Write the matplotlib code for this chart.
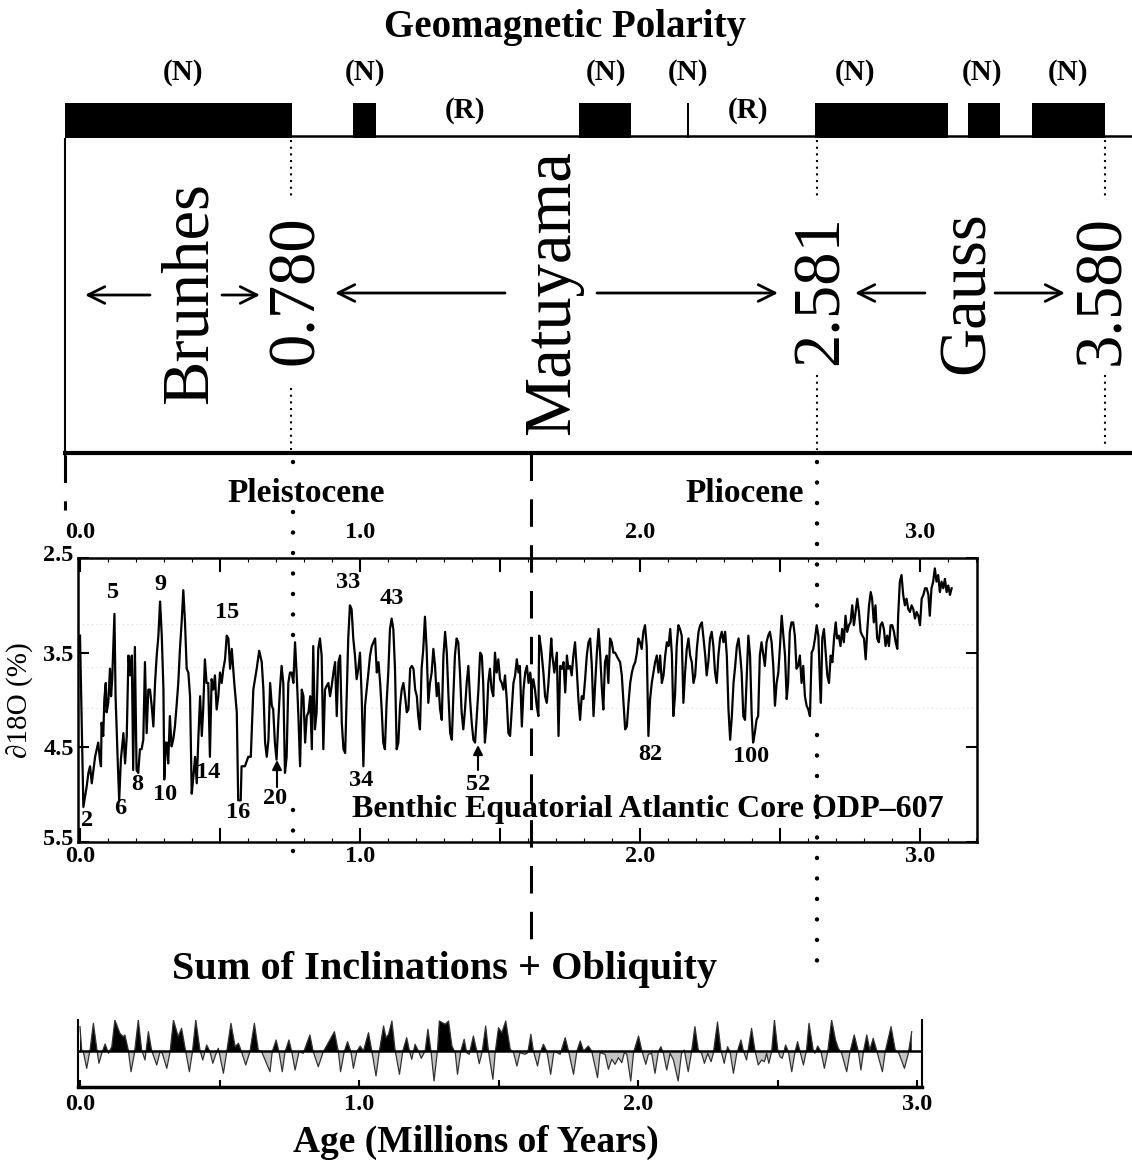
import matplotlib
matplotlib.use('Agg')
import matplotlib.pyplot as plt
import matplotlib.transforms as mtransforms
from matplotlib.ticker import MultipleLocator, FixedLocator

plt.rcParams['font.family'] = ['Liberation Serif', 'DejaVu Serif']

# ---------------- data ----------------
# geomagnetic normal-polarity intervals (Ma)
normal_start = [0.00, 0.99, 1.77, 2.14, 2.581, 3.11, 3.33]
normal_end = [0.78, 1.07, 1.95, 2.147, 3.04, 3.22, 3.58]
normal_labels = ['(N)'] * 7
reverse_labels = ['(R)', '(R)']
chron_names = ['Brunhes', 'Matuyama', 'Gauss']
chron_bounds = ['0.780', '2.581', '3.580']
epoch_names = ['Pleistocene', 'Pliocene']

# benthic d18O, ODP-607 (age Ma, value)
d18o_seg1 = [(0.000,3.32),(0.012,5.13),(0.024,4.91),(0.030,4.77),(0.036,4.70),(0.042,4.88),(0.048,4.74),(0.054,4.60),(0.060,4.52),(0.065,4.45),(0.071,4.63),(0.075,4.70),(0.077,4.24),(0.083,4.38),(0.087,3.99),(0.092,3.82),(0.095,4.13),(0.101,4.03),(0.107,3.67),(0.111,3.96),(0.115,3.78),(0.123,3.09),(0.127,3.96),(0.135,4.67),(0.140,5.06),(0.146,4.63),(0.155,4.35),(0.161,4.67),(0.167,4.38),(0.173,3.53),(0.179,3.74),(0.185,3.53),(0.190,4.74),(0.196,3.44),(0.202,4.74),(0.208,4.77),(0.214,4.52),(0.220,4.52),(0.226,4.42),(0.232,3.60),(0.238,4.35),(0.244,3.89),(0.250,3.89),(0.256,4.06),(0.262,4.28),(0.268,3.82),(0.274,3.53),(0.280,3.32),(0.286,2.96),(0.292,3.32),(0.298,3.89),(0.301,4.84),(0.306,4.45),(0.310,4.45),(0.315,4.67),(0.321,4.17),(0.327,4.49),(0.333,4.42),(0.339,4.28),(0.345,4.06),(0.351,3.82),(0.357,3.46),(0.363,3.18),(0.369,2.84),(0.375,3.18),(0.381,3.67),(0.387,3.71),(0.393,3.96),(0.399,4.99),(0.405,4.81),(0.411,4.60),(0.417,4.88),(0.423,4.38),(0.429,3.96),(0.435,4.38),(0.440,4.10),(0.446,3.57),(0.452,3.82),(0.458,3.82),(0.464,4.60),(0.470,3.78),(0.476,3.89),(0.482,3.74),(0.488,4.10),(0.494,3.96),(0.500,3.71),(0.506,3.82),(0.512,3.67),(0.518,3.57),(0.524,3.32),(0.530,3.35),(0.536,3.67),(0.542,3.46),(0.551,3.82),(0.560,4.13),(0.565,5.06),(0.574,5.06),(0.577,4.70),(0.589,4.70),(0.601,4.60),(0.610,4.60),(0.619,3.89),(0.631,3.67),(0.640,3.48),(0.649,3.60),(0.655,3.89),(0.661,4.45),(0.667,4.60),(0.673,4.42),(0.679,3.82),(0.685,4.06),(0.690,4.10),(0.696,4.45),(0.702,4.63),(0.708,4.24),(0.714,3.89),(0.720,3.64),(0.726,3.82),(0.732,4.77),(0.738,4.60),(0.744,3.82),(0.750,3.71),(0.756,3.71),(0.762,3.82),(0.768,3.39),(0.774,3.74),(0.780,4.17),(0.786,4.70)]
d18o_seg2 = [(0.792,3.89),(0.798,3.96),(0.804,4.45),(0.810,4.17),(0.816,4.13),(0.822,3.96),(0.828,4.52),(0.833,3.43),(0.839,4.31),(0.845,4.13),(0.851,3.46),(0.857,3.35),(0.863,3.53),(0.869,4.52),(0.875,3.89),(0.881,3.85),(0.887,3.82),(0.893,3.96),(0.899,3.85),(0.905,3.71),(0.911,3.60),(0.917,4.17),(0.923,3.60),(0.929,3.53),(0.935,4.24),(0.941,4.52),(0.947,4.56),(0.953,3.89),(0.958,3.35),(0.964,3.00),(0.970,3.04),(0.976,3.35),(0.982,3.53),(0.988,3.78),(0.994,3.67),(1.000,3.50),(1.006,3.96),(1.012,4.70),(1.018,4.06),(1.024,3.89),(1.030,3.71),(1.036,3.53),(1.042,3.43),(1.048,3.39),(1.054,3.35),(1.060,3.71),(1.066,3.60),(1.072,3.82),(1.078,4.13),(1.083,4.45),(1.089,4.52),(1.095,4.03),(1.101,3.71),(1.107,3.25),(1.113,3.14),(1.119,3.25),(1.125,3.67),(1.131,4.52),(1.137,4.45),(1.143,4.06),(1.149,3.89),(1.155,3.82),(1.161,3.96),(1.167,4.13),(1.173,4.10),(1.179,3.67),(1.185,3.64),(1.191,3.67),(1.197,3.89),(1.203,3.96),(1.208,4.17),(1.214,4.31),(1.220,3.67),(1.226,3.46),(1.232,3.12),(1.238,3.46),(1.244,4.03),(1.250,3.82),(1.256,3.71),(1.262,3.46),(1.268,3.64),(1.274,3.96),(1.280,3.82),(1.286,4.10),(1.292,4.21),(1.298,3.53),(1.304,3.28),(1.310,3.50),(1.316,3.96),(1.322,4.35),(1.328,4.42),(1.333,3.99),(1.339,3.53),(1.345,3.35),(1.351,3.39),(1.357,3.71),(1.363,4.13),(1.369,4.31),(1.375,4.10),(1.381,3.82),(1.387,3.64),(1.393,3.99),(1.399,4.24),(1.405,4.42),(1.411,4.45),(1.417,4.17),(1.423,3.89),(1.429,3.50),(1.435,3.53),(1.440,3.82),(1.446,4.45),(1.452,4.24),(1.458,3.82),(1.464,3.67),(1.470,3.89),(1.476,3.96),(1.482,3.50),(1.488,3.71),(1.494,3.57),(1.500,3.78),(1.506,3.82),(1.512,3.89),(1.518,3.74),(1.524,3.99),(1.530,4.35),(1.536,4.38),(1.542,4.10),(1.548,3.82),(1.554,3.74),(1.560,3.57),(1.566,3.71),(1.571,3.64)]
d18o_seg3 = [(1.578,4.28),(1.584,3.89),(1.590,3.71),(1.596,3.64),(1.602,3.82),(1.608,3.71),(1.614,3.89),(1.619,3.78),(1.625,3.89),(1.631,4.06),(1.637,4.17),(1.640,3.32),(1.647,3.46),(1.655,3.71),(1.661,3.96),(1.667,4.03),(1.673,3.82),(1.683,3.35),(1.687,3.53),(1.694,3.71),(1.703,3.50),(1.709,4.38),(1.715,3.64),(1.721,3.67),(1.727,3.60),(1.733,3.92),(1.739,3.53),(1.744,3.67),(1.750,3.64),(1.756,3.74),(1.762,3.53),(1.768,3.39),(1.774,3.67),(1.780,3.99),(1.786,4.21),(1.792,3.96),(1.798,3.99),(1.804,3.78),(1.810,3.53),(1.816,3.39),(1.822,3.35),(1.828,3.64),(1.834,4.17),(1.840,3.82),(1.846,3.50),(1.852,3.25),(1.858,3.53),(1.864,3.89),(1.869,4.10),(1.875,3.60),(1.881,3.53),(1.887,3.82),(1.893,3.35),(1.899,3.39),(1.905,3.50),(1.911,3.50),(1.923,3.57),(1.929,3.60),(1.935,3.74),(1.941,4.03),(1.947,4.31),(1.953,4.28),(1.959,4.03),(1.965,3.82),(1.971,3.71),(1.977,3.64),(1.983,3.60),(1.989,3.50),(1.994,3.35),(2.000,3.39),(2.006,3.46),(2.012,3.28),(2.018,3.21),(2.024,3.43),(2.030,4.38),(2.036,3.99),(2.042,3.82),(2.048,3.71),(2.054,3.60),(2.060,3.53),(2.066,3.71),(2.072,3.53),(2.078,3.82),(2.084,3.74),(2.090,3.53),(2.096,3.39),(2.102,3.43),(2.108,3.25),(2.114,3.53),(2.119,4.17),(2.125,3.96),(2.131,3.43),(2.137,3.21),(2.143,3.25),(2.149,3.32),(2.155,4.03),(2.161,3.71),(2.167,3.46),(2.173,3.35),(2.179,3.53),(2.185,3.60),(2.191,3.82),(2.197,3.74),(2.203,3.46),(2.209,3.28),(2.215,3.21),(2.221,3.18),(2.227,3.35),(2.233,3.53),(2.238,3.74),(2.244,3.60),(2.250,3.35),(2.256,3.28),(2.262,3.43),(2.268,3.71),(2.274,3.82),(2.280,3.53),(2.286,3.35),(2.292,3.28),(2.298,3.39),(2.304,3.28),(2.310,3.53),(2.316,4.10),(2.322,4.42),(2.328,4.17),(2.334,3.82),(2.340,3.64),(2.346,3.43),(2.352,3.35),(2.358,3.53)]
d18o_seg4 = [(2.363,3.71),(2.369,4.17),(2.375,4.21),(2.387,3.32),(2.393,3.53),(2.399,4.17),(2.404,4.45),(2.410,4.35),(2.416,4.21),(2.422,4.17),(2.428,3.53),(2.434,3.39),(2.446,3.64),(2.452,3.39),(2.458,3.32),(2.464,3.28),(2.470,3.39),(2.476,3.64),(2.482,4.06),(2.488,3.82),(2.494,3.71),(2.500,3.43),(2.506,3.11),(2.512,3.32),(2.518,3.53),(2.524,3.99),(2.529,3.82),(2.535,3.28),(2.541,3.18),(2.547,3.18),(2.553,3.32),(2.559,3.67),(2.565,3.64),(2.571,3.53),(2.577,3.82),(2.583,3.64),(2.589,3.96),(2.595,4.06),(2.601,4.10),(2.607,4.17),(2.613,3.50),(2.619,3.46),(2.625,3.35),(2.631,3.21),(2.637,3.32),(2.643,3.85),(2.646,4.03),(2.651,3.35),(2.657,3.25),(2.663,3.50),(2.669,3.74),(2.675,3.82),(2.681,3.53),(2.687,3.60),(2.693,3.35),(2.699,3.18),(2.704,3.35),(2.710,3.32),(2.716,3.43),(2.722,3.25),(2.728,3.39),(2.734,3.11),(2.740,3.28),(2.746,3.21),(2.752,3.18),(2.758,3.00),(2.764,3.21),(2.770,3.07),(2.776,2.93),(2.782,3.07),(2.788,3.28),(2.794,3.32),(2.800,3.35),(2.806,3.57),(2.812,3.25),(2.818,3.00),(2.824,2.86),(2.829,2.93),(2.835,3.18),(2.841,3.00),(2.847,3.35),(2.853,3.39),(2.859,3.21),(2.865,3.18),(2.871,3.25),(2.877,3.43),(2.883,3.32),(2.889,3.43),(2.895,3.21),(2.901,3.21),(2.907,3.28),(2.913,3.39),(2.919,3.46),(2.922,3.11),(2.928,2.75),(2.934,2.68),(2.940,2.89),(2.946,3.00),(2.952,2.93),(2.958,3.04),(2.964,3.07),(2.970,3.00),(2.976,3.04),(2.982,3.14),(2.988,3.07),(2.994,3.11),(3.000,3.21),(3.006,2.93),(3.012,2.89),(3.018,2.82),(3.024,2.82),(3.030,2.89),(3.035,3.11),(3.041,2.82),(3.047,2.75),(3.053,2.61),(3.059,2.75),(3.065,2.68),(3.071,2.86),(3.077,2.75),(3.083,2.82),(3.089,2.72),(3.095,2.86),(3.101,2.79),(3.107,2.89),(3.113,2.82)]

# marine isotope stage numbers annotated on the curve
stage_labels = ['2', '5', '6', '8', '9', '10', '14', '15', '16', '20', '33', '34', '43', '52', '82', '100']

# sum of inclinations + obliquity (age Ma, relative amplitude)
incl_seg1 = [(0.000,2.43),(0.006,0.10),(0.012,-0.07),(0.024,-1.73),(0.036,0.10),(0.048,2.77),(0.060,0.27),(0.068,-1.23),(0.078,-0.23),(0.090,0.70),(0.102,-0.23),(0.114,0.43),(0.125,3.10),(0.143,1.77),(0.155,1.43),(0.161,1.60),(0.173,0.10),(0.183,-2.07),(0.195,-0.23),(0.209,3.10),(0.221,0.10),(0.233,-0.90),(0.245,1.93),(0.257,0.03),(0.275,-1.40),(0.287,-0.07),(0.295,-0.23),(0.311,-1.73),(0.323,-0.07),(0.335,3.10),(0.352,1.43),(0.364,2.27),(0.376,0.43),(0.392,-2.07),(0.403,-0.07),(0.415,3.10),(0.430,0.10),(0.440,-0.90),(0.454,0.60),(0.466,-0.07),(0.476,-1.23),(0.490,-0.07),(0.496,0.27),(0.514,-2.23),(0.526,-0.07),(0.541,2.77),(0.556,0.43),(0.568,0.77),(0.579,-0.07),(0.594,-1.40),(0.609,-0.07),(0.625,2.77),(0.639,0.10),(0.651,-0.07),(0.681,-2.07),(0.689,-0.07),(0.703,1.10),(0.713,-0.07),(0.725,-2.07),(0.735,-0.07),(0.749,1.10),(0.759,-0.07),(0.771,-1.90),(0.785,-0.07),(0.800,-0.23),(0.824,1.60),(0.836,-0.07),(0.854,-1.57),(0.872,-0.07),(0.912,1.93),(0.926,-0.07),(0.934,-2.07),(0.947,-0.07),(0.959,0.93),(0.971,-0.07),(0.980,-1.73),(0.992,-0.07),(1.004,0.50)]
incl_seg2 = [(1.016,0.00),(1.034,1.83),(1.046,0.00),(1.061,-2.50),(1.073,0.00),(1.088,2.50),(1.097,1.33),(1.106,1.67),(1.118,3.00),(1.129,0.17),(1.145,-2.33),(1.157,0.00),(1.171,1.33),(1.181,0.00),(1.189,-0.83),(1.201,0.67),(1.213,0.00),(1.223,-0.73),(1.237,0.00),(1.247,2.17),(1.258,0.00),(1.269,-3.00),(1.281,0.00),(1.288,3.00),(1.309,2.67),(1.321,3.00),(1.333,0.50),(1.345,-0.17),(1.353,-2.33),(1.365,0.00),(1.377,1.17),(1.386,-0.17),(1.395,-0.33),(1.410,1.50),(1.422,0.00),(1.431,-1.27),(1.442,0.00),(1.454,2.50),(1.464,0.00),(1.480,-2.83),(1.488,-0.17),(1.500,2.33),(1.512,1.83),(1.526,3.00),(1.542,0.17),(1.554,-0.17),(1.566,-1.50),(1.577,-0.17),(1.595,-0.33),(1.605,-0.17),(1.616,1.67),(1.625,0.00),(1.640,-1.50),(1.649,-0.17),(1.661,0.67),(1.673,0.00),(1.687,-2.33),(1.699,0.00),(1.721,-0.33),(1.739,1.33),(1.751,0.00),(1.769,-2.33),(1.781,0.00),(1.793,1.00),(1.805,0.00),(1.822,0.50),(1.834,0.00),(1.855,-2.67),(1.864,-0.17),(1.882,-0.33),(1.894,-1.83),(1.906,-0.83),(1.918,-1.33),(1.930,-0.67),(1.942,-1.17),(1.951,-0.17),(1.960,-0.33),(1.974,-3.00),(1.984,-0.17),(2.002,1.50),(2.014,0.00),(2.028,-1.33),(2.037,-0.33)]
incl_seg3 = [(2.049,-0.23),(2.061,-2.23),(2.073,-0.07),(2.082,0.43),(2.091,-0.23),(2.103,-1.90),(2.115,-0.23),(2.127,-0.90),(2.144,-3.00),(2.156,-0.23),(2.166,0.10),(2.180,-2.07),(2.192,-0.07),(2.204,2.43),(2.216,0.10),(2.228,-0.23),(2.238,-1.23),(2.250,-0.23),(2.262,-1.07),(2.270,-0.23),(2.285,2.90),(2.297,0.10),(2.309,-1.23),(2.321,0.43),(2.330,-0.07),(2.342,-2.23),(2.354,-0.23),(2.369,1.10),(2.377,0.10),(2.389,-0.90),(2.407,2.27),(2.419,0.10),(2.431,-1.40),(2.443,-0.90),(2.453,-1.07),(2.461,-0.23),(2.469,-1.23),(2.479,-0.07),(2.489,3.10),(2.501,0.10),(2.509,-0.57),(2.517,-0.73),(2.529,0.60),(2.539,-0.07),(2.551,-2.07),(2.563,-0.07),(2.572,0.93),(2.581,-0.07),(2.593,-1.40),(2.604,0.10),(2.613,2.77),(2.628,0.10),(2.634,-0.23),(2.644,0.50),(2.656,-0.07),(2.668,-1.73),(2.680,-0.07),(2.694,3.10),(2.708,1.10),(2.718,0.27),(2.730,-0.23),(2.748,-2.07),(2.760,-0.07),(2.775,1.60),(2.790,-0.07),(2.799,-1.90),(2.808,-0.07),(2.820,1.60),(2.831,0.10),(2.843,1.27),(2.855,0.10),(2.876,-2.07),(2.886,-0.07),(2.907,2.43),(2.922,0.10),(2.935,-0.23),(2.955,-1.73),(2.969,-0.23),(2.981,1.93)]

d18o = d18o_seg1 + d18o_seg2 + d18o_seg3 + d18o_seg4
d18o_age = [p[0] for p in d18o]
d18o_val = [p[1] for p in d18o]
incl = incl_seg1 + incl_seg2 + incl_seg3
incl_age = [p[0] for p in incl]
incl_val = [p[1] for p in incl]

# ---------------- layout ----------------
W, H = 1132, 1168
fig = plt.figure(figsize=(W / 100, H / 100), dpi=100)


def box(x0, y0, x1, y1):
    return [x0 / W, 1 - y1 / H, (x1 - x0) / W, (y1 - y0) / H]


TICK_FS = 17.5

# polarity bar (age scale of the top panel)
axP = fig.add_axes(box(0, 103, W, 138))
axP.set_xlim(-65 / 290.5, (W - 65) / 290.5)
axP.set_ylim(0, 1)
axP.axis('off')
axP.bar(normal_start, [1] * len(normal_start),
        width=[e - s for s, e in zip(normal_start, normal_end)],
        align='edge', color='black', lw=0)
axP.plot([normal_end[0], (W - 65) / 290.5], [0.07, 0.07], color='black', lw=1.8)

# middle panel
axM = fig.add_axes(box(78, 558, 977, 842))
axM.set_xlim(-2 / 280, 897 / 280)
axM.set_ylim(5.5, 2.5)
for yv in [3.2, 3.65, 4.08]:
    axM.axhline(yv, color='#dcdcdc', lw=0.8, ls=(0, (1, 3)), zorder=0)
axM.plot(d18o_age, d18o_val, color='black', lw=1.6, zorder=3)
for s in axM.spines.values():
    s.set_linewidth(1.8)
axM.xaxis.set_major_locator(FixedLocator([0, 0.5, 1, 1.5, 2, 2.5, 3]))
axM.set_xticklabels(['0.0', '', '1.0', '', '2.0', '', '3.0'])
axM.xaxis.set_minor_locator(MultipleLocator(0.1))
axM.tick_params(axis='x', which='major', direction='in', length=10, width=1.5,
                top=True, bottom=True, labelsize=TICK_FS, pad=3)
axM.tick_params(axis='x', which='minor', direction='in', length=3, width=0.8,
                top=True, bottom=True)
axM.set_yticks([2.5, 3.5, 4.5, 5.5])
axM.set_yticklabels(['2.5', '3.5', '4.5', '5.5'])
axM.tick_params(axis='y', direction='in', length=8, width=1.5, left=True,
                right=True, labelsize=TICK_FS, pad=3)
for lab in axM.get_xticklabels() + axM.get_yticklabels():
    lab.set_fontweight('bold')
# lift the lowest y label a little so it clears the 0.0 below it
lift = mtransforms.ScaledTranslation(0, 5 / 100, fig.dpi_scale_trans)
ylabs = axM.get_yticklabels()
ylabs[-1].set_transform(ylabs[-1].get_transform() + lift)
ylabs[0].set_transform(ylabs[0].get_transform() + lift)
sec = axM.secondary_xaxis('top')
sec.set_xticks([0, 1, 2, 3])
sec.set_xticklabels(['0.0', '1.0', '2.0', '3.0'])
sec.tick_params(length=0, pad=11, labelsize=TICK_FS)
sec.spines['top'].set_visible(False)
for lab in sec.get_xticklabels():
    lab.set_fontweight('bold')

# bottom panel
axB = fig.add_axes(box(78, 1020, 922, 1087))
axB.set_xlim(-2 / 279, 842 / 279)
axB.set_ylim(-3.6, 3.1)
axB.fill_between(incl_age, incl_val, 0, where=[v >= 0 for v in incl_val],
                 interpolate=True, color='black', lw=0)
axB.fill_between(incl_age, incl_val, 0, where=[v <= 0 for v in incl_val],
                 interpolate=True, color='#c4c4c4', lw=0)
axB.plot(incl_age, incl_val, color='#333333', lw=0.9)
axB.axhline(0, color='black', lw=1.8)
axB.spines['top'].set_visible(False)
axB.spines['left'].set_linewidth(1.5)
axB.spines['right'].set_linewidth(1.5)
axB.spines['bottom'].set_linewidth(2.5)
axB.set_yticks([])
axB.set_xticks([0, 1, 2, 3])
axB.set_xticklabels(['0.0', '1.0', '2.0', '3.0'])
axB.xaxis.set_minor_locator(FixedLocator([0.5, 1.5, 2.5]))
axB.tick_params(axis='x', which='both', direction='in', length=5, width=1.5,
                labelsize=TICK_FS, pad=5)
for lab in axB.get_xticklabels():
    lab.set_fontweight('bold')

# overlay for text and guide lines (pixel coordinates)
axO = fig.add_axes([0, 0, 1, 1], zorder=5)
axO.set_xlim(0, W)
axO.set_ylim(H, 0)
axO.axis('off')
axO.patch.set_alpha(0)

axO.text(565, 27, 'Geomagnetic Polarity', ha='center', va='center',
         fontsize=28, fontweight='bold')
for x, lab in zip([183, 365, 606, 688, 855, 982, 1068], normal_labels):
    axO.text(x, 72, lab, ha='center', va='center', fontsize=21, fontweight='bold')
for x, lab in zip([465, 748], reverse_labels):
    axO.text(x, 110, lab, ha='center', va='center', fontsize=21, fontweight='bold')

# top panel frame
axO.plot([65, 65], [139, 455], color='black', lw=1.5)
axO.plot([65, W], [453, 453], color='black', lw=3)

for x, name in zip([190, 553, 967], chron_names):
    axO.text(x, 293, name, rotation=90, ha='center', va='center', fontsize=48)
for x, val in zip([296, 821, 1103], chron_bounds):
    axO.text(x, 290, val, rotation=90, ha='center', va='center', fontsize=48)


def arrow(x0, x1, y):
    axO.annotate('', xy=(x1, y), xytext=(x0, y),
                 arrowprops=dict(arrowstyle='->', lw=2, color='black',
                                 mutation_scale=30, shrinkA=0, shrinkB=0))


arrow(150, 85, 295)
arrow(222, 260, 295)
arrow(505, 335, 293)
arrow(597, 778, 293)
arrow(925, 855, 293)
arrow(995, 1065, 293)

fine = dict(color='black', lw=1.5, ls=(0, (1, 2.2)))
for x, segs in [(291, [(140, 197), (388, 450)]),
                (817, [(140, 200), (375, 450)]),
                (1105, [(140, 197), (375, 445)])]:
    for a, b in segs:
        axO.plot([x, x], [a, b], **fine)

big = dict(color='black', lw=3.2, ls=(0, (0.01, 4.6)), dash_capstyle='round')
for x, segs in [(293, [(462, 476), (512, 640), (810, 865)]),
                (817, [(462, 612), (735, 978)])]:
    for a, b in segs:
        axO.plot([x, x], [a, b], **big)

dash = dict(color='black', lw=2.2, ls=(0, (9, 6)))
axO.plot([531, 531], [453, 952], **dash)
axO.plot([65, 65], [455, 510], **dash)

axO.text(306, 493, epoch_names[0], ha='center', va='center', fontsize=24, fontweight='bold')
axO.text(745, 493, epoch_names[1], ha='center', va='center', fontsize=24, fontweight='bold')

axO.text(20, 700, '∂18O (%)', rotation=90, ha='center', va='center', fontsize=21)

stage_pos = [(87, 820), (113, 592), (120, 808), (137, 784), (160, 585), (165, 794),
             (208, 773), (227, 613), (238, 812), (275, 799), (348, 582), (361, 780),
             (392, 598), (478, 784), (650, 754), (751, 757)]
for lab, (x, y) in zip(stage_labels, stage_pos):
    axO.text(x, y, lab, ha='center', va='center', fontsize=17.5, fontweight='bold')
for x, y0, y1 in [(277, 787, 760), (478, 770, 745)]:
    axO.annotate('', xy=(x, y1), xytext=(x, y0),
                 arrowprops=dict(arrowstyle='-|>', lw=1.5, color='black',
                                 mutation_scale=14, shrinkA=0, shrinkB=0))

axO.text(648, 810, 'Benthic Equatorial Atlantic Core ODP\u2013607', ha='center',
         va='center', fontsize=23, fontweight='bold')

axO.text(445, 970, 'Sum of Inclinations + Obliquity', ha='center', va='center',
         fontsize=29, fontweight='bold')
axO.text(476, 1142, 'Age (Millions of Years)', ha='center', va='center',
         fontsize=27, fontweight='bold')

fig.savefig('out.png', dpi=100)
